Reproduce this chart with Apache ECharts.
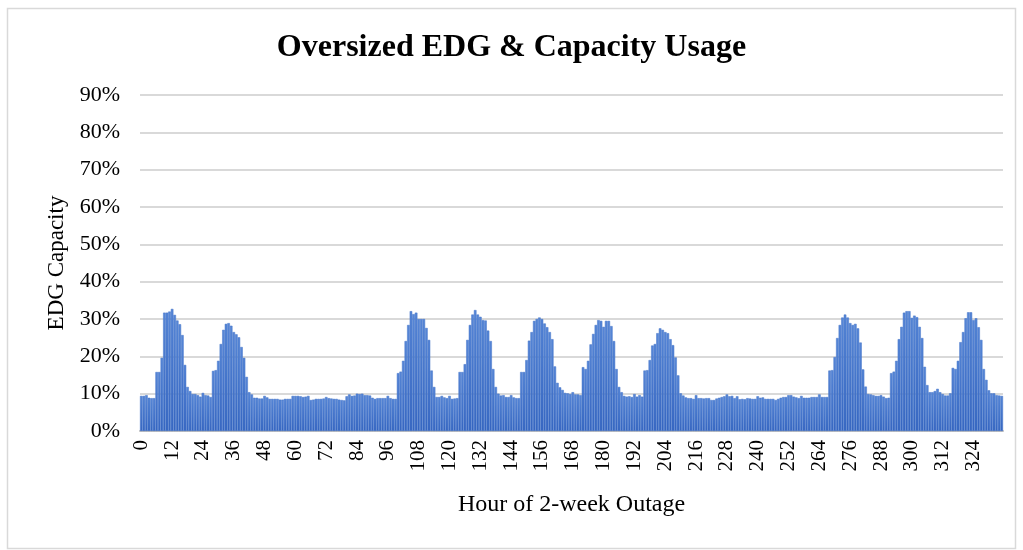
<!DOCTYPE html>
<html>
<head>
<meta charset="utf-8">
<title>Oversized EDG & Capacity Usage</title>
<script src="https://cdn.jsdelivr.net/npm/echarts@6/dist/echarts.min.js"></script>
<style>
  html, body { margin: 0; padding: 0; background: #fff; }
  #chart { width: 1023px; height: 550px; }
</style>
</head>
<body>
<div id="chart"></div>
<script>
  // hour index of the 2-week outage (0 .. 335)
  const hours = []
  for (let h = 0; h < 336; h++) hours.push(String(h))

  // EDG capacity used, percent
  const day1 = [9.4, 9.4, 9.6, 8.9, 8.8, 8.8, 15.8, 15.8, 19.6, 31.7, 31.7, 32.0,
                32.7, 31.1, 29.6, 28.6, 25.7, 17.7, 11.8, 10.7, 9.9, 9.9, 9.6, 9.2]
  const day2 = [10.2, 9.6, 9.5, 9.1, 16.1, 16.3, 18.8, 23.3, 27.1, 28.7, 28.9, 28.2,
                26.5, 25.9, 25.1, 22.5, 19.6, 14.5, 10.4, 9.8, 8.9, 8.9, 8.7, 8.7]
  const day3 = [9.4, 9.0, 8.6, 8.6, 8.6, 8.6, 8.4, 8.4, 8.6, 8.6, 8.6, 9.4,
                9.4, 9.4, 9.3, 9.1, 9.2, 9.4, 8.3, 8.4, 8.6, 8.6, 8.6, 8.7]
  const day4 = [9.1, 8.8, 8.7, 8.6, 8.6, 8.4, 8.3, 8.2, 9.3, 9.8, 9.4, 9.5,
                10.0, 9.9, 10.0, 9.6, 9.6, 9.5, 8.9, 8.6, 8.8, 8.8, 8.8, 8.8]
  const day5 = [9.4, 8.8, 8.6, 8.6, 15.5, 15.9, 18.8, 24.1, 28.4, 32.1, 31.3, 31.7,
                30.0, 30.0, 30.0, 27.6, 24.4, 16.2, 11.8, 9.1, 9.1, 9.4, 9.0, 8.8]
  const day6 = [9.4, 8.6, 8.7, 8.8, 15.8, 15.8, 17.9, 24.4, 28.4, 31.2, 32.4, 31.2,
                30.6, 29.7, 29.6, 26.9, 24.1, 16.6, 11.8, 10.0, 9.5, 9.6, 9.1, 9.1]
  const day7 = [9.6, 9.0, 8.8, 8.8, 15.8, 15.8, 19.0, 24.2, 26.5, 29.5, 30.0, 30.4,
                30.0, 28.8, 27.8, 26.5, 24.6, 17.3, 12.9, 11.7, 11.0, 10.2, 10.1, 9.9]
  const day8 = [10.4, 9.8, 9.8, 9.6, 17.1, 16.6, 18.8, 23.2, 26.0, 28.4, 29.7, 29.5,
                27.9, 29.5, 29.5, 28.1, 24.1, 16.6, 11.8, 10.4, 9.4, 9.2, 9.3, 9.1]
  const day9 = [9.9, 9.2, 9.6, 9.2, 16.2, 16.3, 19.0, 22.9, 23.3, 26.2, 27.5, 27.1,
                26.5, 26.2, 24.6, 23.0, 19.7, 14.9, 10.1, 9.5, 9.0, 8.8, 8.8, 8.6]
  const day10 = [9.6, 8.8, 8.8, 8.7, 8.8, 8.8, 8.3, 8.3, 8.7, 8.9, 9.1, 9.3,
                 9.8, 9.3, 9.4, 8.8, 9.3, 8.5, 8.6, 8.5, 8.8, 8.7, 8.6, 8.6]
  const day11 = [9.3, 8.9, 9.0, 8.6, 8.6, 8.6, 8.6, 8.3, 8.6, 8.9, 9.1, 9.1,
                 9.6, 9.6, 9.2, 9.0, 8.8, 9.4, 8.9, 8.9, 8.9, 9.1, 9.1, 9.1]
  const day12 = [9.8, 9.1, 9.1, 9.1, 16.2, 16.3, 19.8, 24.9, 28.4, 30.4, 31.2, 30.4,
                 28.9, 28.4, 28.7, 27.5, 23.7, 16.5, 11.9, 9.9, 9.8, 9.6, 9.4, 9.4]
  const day13 = [9.6, 9.2, 8.8, 8.9, 15.5, 15.9, 18.8, 24.6, 27.9, 31.7, 32.1, 32.1,
                 30.3, 30.9, 30.5, 27.9, 24.9, 17.2, 12.3, 10.4, 10.4, 10.7, 11.3, 10.4]
  const day14 = [9.9, 9.5, 9.5, 10.1, 16.9, 16.6, 18.8, 23.8, 26.5, 30.2, 31.8, 31.8,
                 29.7, 30.2, 27.8, 24.4, 16.6, 13.7, 10.9, 10.1, 10.1, 9.6, 9.5, 9.4]

  const capacity = [].concat(day1, day2, day3, day4, day5, day6, day7,
                             day8, day9, day10, day11, day12, day13, day14)

  const serif = '"Liberation Serif", "Times New Roman", serif'
  const chart = echarts.init(document.getElementById('chart'))

  const option = {
    animation: false,
    backgroundColor: '#ffffff',
    title: {
      text: 'Oversized EDG & Capacity Usage',
      left: 'center',
      top: 27,
      textStyle: { fontFamily: serif, fontSize: 32, fontWeight: 'bold', color: '#000' }
    },
    graphic: [
      {
        type: 'rect',
        shape: { x: 7.5, y: 8.5, width: 1008, height: 540 },
        style: { fill: 'none', stroke: '#d9d9d9', lineWidth: 1.5 },
        silent: true
      }
    ],
    grid: { left: 140, right: 20, top: 95, bottom: 119 },
    xAxis: {
      type: 'category',
      data: hours,
      name: 'Hour of 2-week Outage',
      nameLocation: 'middle',
      nameGap: 62,
      nameTextStyle: { fontFamily: serif, fontSize: 24, color: '#000' },
      axisLine: { lineStyle: { color: '#bfbfbf', width: 2 } },
      axisTick: { show: false },
      axisLabel: {
        interval: 11,
        rotate: 90,
        margin: 9,
        fontFamily: serif,
        fontSize: 21,
        color: '#000'
      }
    },
    yAxis: {
      type: 'value',
      min: 0,
      max: 90,
      interval: 10,
      name: 'EDG Capacity',
      nameLocation: 'middle',
      nameGap: 72,
      nameTextStyle: { fontFamily: serif, fontSize: 23, color: '#000' },
      axisLine: { show: false },
      axisTick: { show: false },
      axisLabel: {
        formatter: '{value}%',
        margin: 20,
        fontFamily: serif,
        fontSize: 22,
        color: '#000'
      },
      splitLine: { lineStyle: { color: '#d9d9d9', width: 2 } }
    },
    series: [
      {
        name: 'EDG Capacity',
        type: 'bar',
        data: capacity,
        barCategoryGap: '0%',
        itemStyle: {
          color: new echarts.graphic.LinearGradient(0, 0, 0, 1, [
            { offset: 0, color: '#5787d7' },
            { offset: 1, color: '#3565c0' }
          ]),
          borderColor: '#4574c9',
          borderWidth: 0.5
        }
      }
    ]
  }

  chart.setOption(option)
</script>
</body>
</html>
